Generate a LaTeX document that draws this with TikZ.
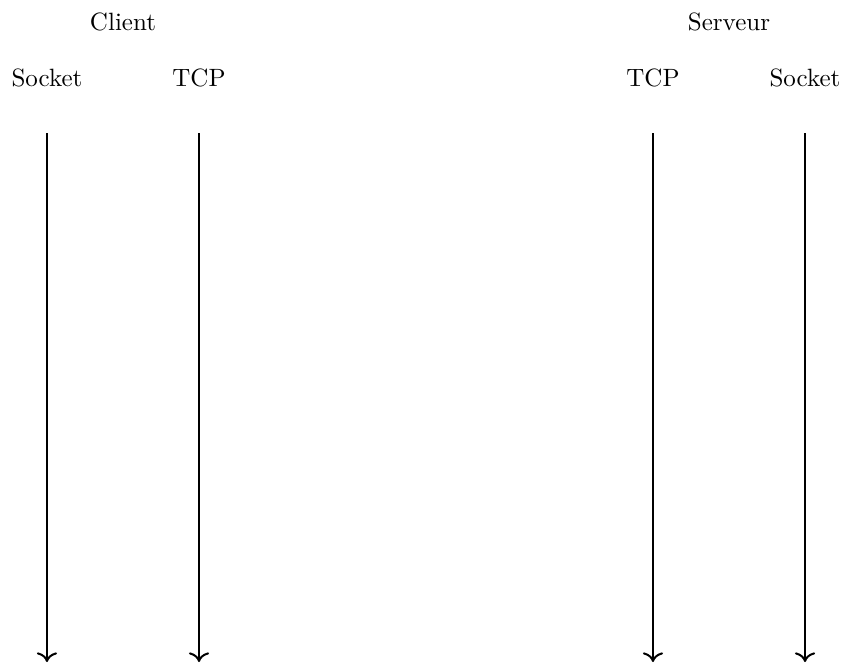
\documentclass[tikz,border=0pt]{standalone}
\usetikzlibrary{arrows.meta}
\tikzset{
  host/.style={
    inner sep=0pt
  },
  layer/.style={
    inner sep=0pt
  },
  timeline/.style={
    draw, -{To[scale=1.15]}, color=black, line width=.8pt
  }
}

\begin{document}
\begin{tikzpicture}
        \useasboundingbox (-0.66,1.096) rectangle (11.24,-8.219);

        \node[host] (client) at (1.068,0.787) {Client};
        \node[host] (serveur) at (9.582,0.787) {Serveur};

        \node[layer] (csocket) at (0,0) {Socket};
        \node[layer] (ctcp) at (2.136,0) {TCP};
        \node[layer] (stcp) at (8.514,0) {TCP};
        \node[layer] (ssocket) at (10.65,0) {Socket};

        \coordinate (csocket-start) at (0,-0.773);
        \coordinate (ctcp-start) at (2.136,-0.773);
        \coordinate (stcp-start) at (8.514,-0.773);
        \coordinate (ssocket-start) at (10.65,-0.773);
        \coordinate (csocket-end) at (0,-8.205);
        \coordinate (ctcp-end) at (2.136,-8.205);
        \coordinate (stcp-end) at (8.514,-8.205);
        \coordinate (ssocket-end) at (10.65,-8.205);

        \draw[timeline] (csocket-start) -- (csocket-end);
        \draw[timeline] (ctcp-start) -- (ctcp-end);
        \draw[timeline] (stcp-start) -- (stcp-end);
        \draw[timeline] (ssocket-start) -- (ssocket-end);
      \end{tikzpicture}
\end{document}
